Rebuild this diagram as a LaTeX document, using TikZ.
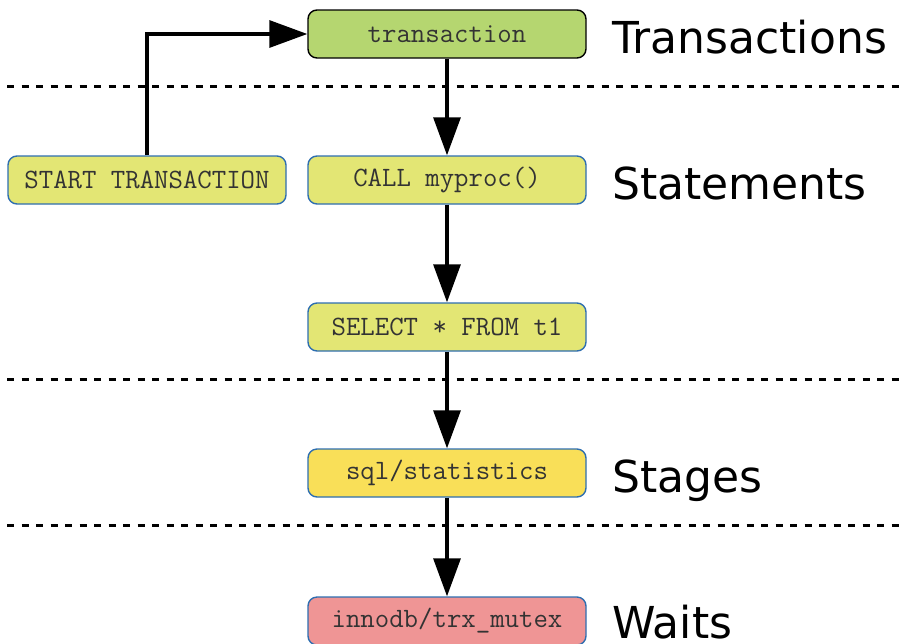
\documentclass[tikz,border=0pt]{standalone}
\usepackage{fontspec}
\setmainfont{DejaVu Sans}
\usetikzlibrary{arrows.meta}

\definecolor{trxgreen}{RGB}{181,214,112}
\definecolor{stmtyellow}{RGB}{227,230,116}
\definecolor{stageyellow}{RGB}{249,223,88}
\definecolor{waitred}{RGB}{239,149,149}
\definecolor{boxblue}{RGB}{46,110,176}

\begin{document}
\begin{tikzpicture}[x=1pt, y=-1pt,
    box/.style = {draw=boxblue, line width=1.4pt, rounded corners=9pt,
        minimum width=278pt, minimum height=48pt, inner sep=0pt,
        font=\ttfamily\fontsize{28}{30}\selectfont, text=black!80},
    trx/.style = {box, draw=black, fill=trxgreen},
    stmt/.style = {box, fill=stmtyellow},
    stage/.style = {box, fill=stageyellow},
    wait/.style = {box, fill=waitred},
    level/.style = {anchor=base west, inner sep=0pt, font=\fontsize{44}{50}\selectfont},
    link/.style = {line width=3.2pt, -{Triangle[length=38pt, width=27pt]}}]
                \useasboundingbox (0,0) rectangle (901,643);

                % layer separators
                \foreach \y in {86, 379, 525} {
                    \draw[line width=3pt, dash pattern=on 7pt off 7.5pt] (7,\y) -- (901,\y);
                }

                \node[trx] (transaction) at (447,34) {transaction};
                \node[stmt] (start) at (147,180) {START TRANSACTION};
                \node[stmt] (call) at (447,180) {CALL myproc()};
                \node[stmt] (select) at (447,327) {SELECT * FROM t1};
                \node[stage] (stats) at (447,473) {sql/statistics};
                \node[wait] (mutex) at (447,621) {innodb/trx\_mutex};

                \node[level] (transactions) at (612,53) {Transactions};
                \node[level] (statements) at (612,199) {Statements};
                \node[level] (stages) at (612,492) {Stages};
                \node[level] (waits) at (612,638) {Waits};

                \draw[link] (start.north) |- (transaction.west);
                \draw[link] (transaction) -- (call);
                \draw[link] (call) -- (select);
                \draw[link] (select) -- (stats);
                \draw[link] (stats) -- (mutex);
            \end{tikzpicture}
\end{document}
